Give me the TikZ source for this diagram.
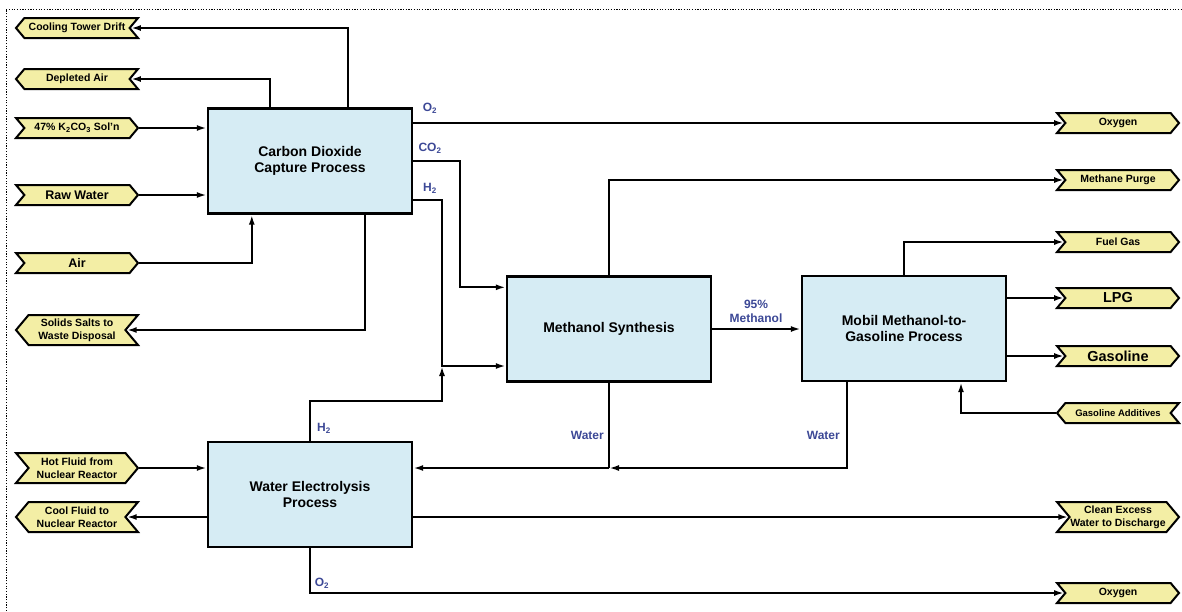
\documentclass[tikz,border=0pt]{standalone}
\usepackage{fontspec}
\setmainfont{Liberation Sans}
\usetikzlibrary{arrows.meta,shapes.symbols,positioning}
\definecolor{boxfill}{RGB}{214,236,244}
\definecolor{tagfill}{RGB}{243,238,165}
\definecolor{lblblue}{RGB}{60,72,150}
\tikzset{
  x=1pt,y=-1pt,
  proc/.style={draw=black,line width=2.4pt,fill=boxfill,minimum width=204pt,minimum height=105pt,align=center,font=\fontsize{14}{16.5}\selectfont\bfseries,inner sep=0pt},
  tagbase/.style={draw=black,line width=2pt,fill=tagfill,signal,signal pointer angle=100,minimum width=122pt,minimum height=20pt,inner sep=0pt,align=center,font=\fontsize{10.5}{12.8}\selectfont\bfseries},
  tagin/.style={tagbase,signal to=east,signal from=west},
  tagout/.style={tagbase,signal to=west,signal from=east},
  tall/.style={minimum height=30pt},
  arr/.style={line width=2.2pt,-{Latex[length=10pt,width=6pt]}},
  ln/.style={line width=2.2pt},
  lbl/.style={text=lblblue,font=\fontsize{12}{14}\selectfont\bfseries,inner sep=0pt,align=center},
}
\begin{document}
\begin{tikzpicture}
\useasboundingbox (0,0) rectangle (1182,611);
\draw[line width=0.9pt,dash pattern=on 1.2pt off 1.5pt] (6,611) -- (6,9) -- (1182,9);

% process boxes
\node[proc] (co2) at (310,161) {Carbon Dioxide\\Capture Process};
\node[proc] (ms) at (609,329) {Methanol Synthesis};
\node[proc] (mtg) at (904,328.5) {Mobil Methanol-to-\\Gasoline Process};
\node[proc] (we) at (310,494.5) {Water Electrolysis\\Process};

% left tags
\node[tagout] (ctd) at (77,28) {Cooling Tower Drift};
\node[tagout] (da) at (77,79) {Depleted Air};
\node[tagin] (k2) at (77,128) {47\% K\textsubscript{2}CO\textsubscript{3} Sol'n};
\node[tagin] (rw) at (77,195) {\fontsize{12.5}{14}\selectfont Raw Water};
\node[tagin] (air) at (77,263) {\fontsize{12.5}{14}\selectfont Air};
\node[tagout,tall] (ss) at (77,330) {Solids Salts to\\Waste Disposal};
\node[tagin,tall] (hf) at (77,468) {Hot Fluid from\\Nuclear Reactor};
\node[tagout,tall] (cf) at (77,517) {Cool Fluid to\\Nuclear Reactor};

% right tags
\node[tagin] (ox1) at (1118,123) {Oxygen};
\node[tagin] (mp) at (1118,180) {Methane Purge};
\node[tagin] (fg) at (1118,242) {Fuel Gas};
\node[tagin] (lpg) at (1118,298) {\fontsize{14.5}{16}\selectfont LPG};
\node[tagin] (gas) at (1118,356) {\fontsize{14.5}{16}\selectfont Gasoline};
\node[tagout] (ga) at (1118,413) {\fontsize{9.5}{11}\selectfont Gasoline Additives};
\node[tagin,tall] (cw) at (1118,517) {Clean Excess\\Water to Discharge};
\node[tagin] (ox2) at (1118,593) {Oxygen};

% junctions
\coordinate (j) at (442,366);
\coordinate (wj) at (609,468);

% connectors around CO2 capture
\draw[arr] ([xshift=141pt]co2.north west) |- (ctd.east);
\draw[arr] ([xshift=63pt]co2.north west) |- (da.east);
\draw[arr] (k2.east) -- (k2.east -| co2.west);
\draw[arr] (rw.east) -- (rw.east -| co2.west);
\draw[arr] (air.east) -| ([xshift=45pt]co2.south west);
\draw[arr] ([xshift=158pt]co2.south west) |- (ss.east);
\draw[arr] (co2.east |- ox1.west) -- (ox1.west);
\draw[arr] (co2.east) -- ++(47,0) |- ([yshift=-12pt]ms.north west);
\draw[arr] ([yshift=-39pt]co2.east) -| (j) -- (j -| ms.west);

% electrolysis
\draw[arr] (we.north) -- ++(0,-40) -| (j);
\draw[arr] (hf.east) -- (hf.east -| we.west);
\draw[arr] (we.west |- cf.east) -- (cf.east);
\draw[arr] (we.east |- cw.west) -- (cw.west);
\draw[arr] (we.south) |- (ox2.west);

% methanol synthesis
\draw[arr] (ms.north) |- (mp.west);
\draw[arr] (ms.east) -- (ms.east -| mtg.west);
\draw[ln] (ms.south) -- (wj);
\draw[arr] (wj) -- (wj -| we.east);

% MTG
\draw[arr] (mtg.north) |- (fg.west);
\draw[arr] (mtg.east |- lpg.west) -- (lpg.west);
\draw[arr] (mtg.east |- gas.west) -- (gas.west);
\draw[arr] (ga.west) -| ([xshift=57pt]mtg.south);
\draw[arr] ([xshift=-57pt]mtg.south) |- (wj);

% stream labels
\node[lbl] (lo2a) at (430,108) {O\textsubscript{2}};
\node[lbl] (lco2) at (430,148) {CO\textsubscript{2}};
\node[lbl] (lh2a) at (430,188) {H\textsubscript{2}};
\node[lbl] (lh2b) at (324,428) {H\textsubscript{2}};
\node[lbl] (lo2b) at (322,583) {O\textsubscript{2}};
\node[lbl] (lmeth) at (756,311) {95\%\\Methanol};
\node[lbl,anchor=east] (lw1) at (604,435) {Water};
\node[lbl,anchor=east] (lw2) at (840,435) {Water};
\end{tikzpicture}
\end{document}
